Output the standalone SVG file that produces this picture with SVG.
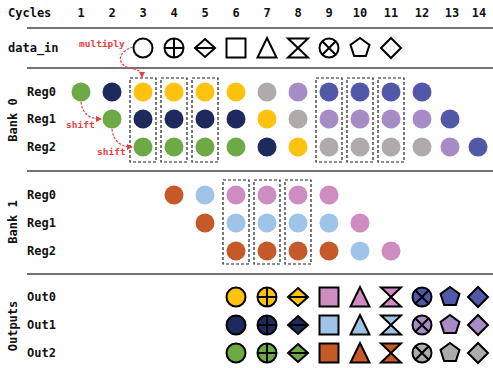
<svg xmlns="http://www.w3.org/2000/svg" xmlns:xlink="http://www.w3.org/1999/xlink" width="493" height="368" viewBox="0 0 493 368">
<style>
text{font-family:"DejaVu Sans Mono","Liberation Mono",monospace;font-weight:bold;font-size:12px;fill:#111}
.hd{text-anchor:middle}
.red{fill:#f03c3c;font-size:9.5px}
.sep{stroke:#444;stroke-width:1.5}
.box{fill:none;stroke:#222;stroke-width:1.2;stroke-dasharray:3,2}
.arr{fill:none;stroke:#f03c3c;stroke-width:1.2;stroke-dasharray:2.5,1.5}
.Y{fill:#FFC20E}.N{fill:#1E2A5E}.G{fill:#6DAA45}.S{fill:#AEABAA}.L{fill:#A78BC4}.I{fill:#5258A8}.O{fill:#C55A28}.B{fill:#9EC4E8}.P{fill:#CE8CC0}.W{fill:#fff}
.sh{stroke:#000;stroke-width:2;stroke-linejoin:miter}
</style>
<defs>
<marker id="ah" viewBox="0 0 6 6" refX="5" refY="3" markerWidth="5" markerHeight="5" orient="auto"><path d="M0,0 L6,3 L0,6 z" fill="#f03c3c"/></marker>
<g id="circ" class="sh"><circle r="9.5"/></g>
<g id="pcirc" class="sh"><circle r="9.5"/><path d="M-9.5,0H9.5M0,-9.5V9.5" fill="none"/></g>
<g id="dline" class="sh"><polygon points="0,-9 10,0 0,9 -10,0"/><path d="M-10,0H10" fill="none"/></g>
<g id="sq" class="sh"><rect x="-9.5" y="-9.5" width="19" height="19"/></g>
<g id="tri" class="sh"><polygon points="0,-10 9.5,9.5 -9.5,9.5"/></g>
<g id="hg" class="sh"><polygon points="-10,-9.5 10,-9.5 -10,9.5 10,9.5"/></g>
<g id="xcirc" class="sh"><circle r="9.5"/><path d="M-6.7,-6.7L6.7,6.7M6.7,-6.7L-6.7,6.7" fill="none"/></g>
<g id="pent" class="sh"><polygon points="0,-10 9.5,-3.1 5.9,8.1 -5.9,8.1 -9.5,-3.1"/></g>
<g id="dia" class="sh"><polygon points="0,-10 10,0 0,10 -10,0"/></g>
</defs>
<rect width="493" height="368" fill="#fff"/>

<g id="header">
<text x="8" y="17">Cycles</text>
<text class="hd" x="81" y="17">1</text>
<text class="hd" x="112" y="17">2</text>
<text class="hd" x="143" y="17">3</text>
<text class="hd" x="174" y="17">4</text>
<text class="hd" x="205" y="17">5</text>
<text class="hd" x="236" y="17">6</text>
<text class="hd" x="267" y="17">7</text>
<text class="hd" x="298" y="17">8</text>
<text class="hd" x="329" y="17">9</text>
<text class="hd" x="360" y="17">10</text>
<text class="hd" x="391" y="17">11</text>
<text class="hd" x="422" y="17">12</text>
<text class="hd" x="452" y="17">13</text>
<text class="hd" x="479" y="17">14</text>
</g>

<g id="separators">
<line class="sep" x1="27" y1="28" x2="493" y2="28"/>
<line class="sep" x1="27" y1="68" x2="493" y2="68"/>
<line class="sep" x1="27" y1="171" x2="493" y2="171"/>
<line class="sep" x1="27" y1="274" x2="493" y2="274"/>
</g>

<g id="data_in">
<text x="8" y="52">data_in</text>
<use href="#circ" x="143" y="48" class="W"/>
<use href="#pcirc" x="174" y="48" class="W"/>
<use href="#dline" x="205" y="48" class="W"/>
<use href="#sq" x="236" y="48" class="W"/>
<use href="#tri" x="267" y="48" class="W"/>
<use href="#hg" x="298" y="48" class="W"/>
<use href="#xcirc" x="329" y="48" class="W"/>
<use href="#pent" x="360" y="48" class="W"/>
<use href="#dia" x="391" y="48" class="W"/>
</g>

<g id="bank0">
<text transform="translate(17,120) rotate(-90)" text-anchor="middle">Bank 0</text>
<text x="27" y="96">Reg0</text>
<text x="27" y="123">Reg1</text>
<text x="27" y="151">Reg2</text>
<rect class="box" x="130" y="78" width="26" height="84"/>
<rect class="box" x="161" y="78" width="26" height="84"/>
<rect class="box" x="192" y="78" width="26" height="84"/>
<rect class="box" x="316" y="78" width="26" height="84"/>
<rect class="box" x="347" y="78" width="26" height="84"/>
<rect class="box" x="378" y="78" width="26" height="84"/>
<g id="b0r0">
<circle class="G" cx="81" cy="92" r="9.5"/><circle class="N" cx="112" cy="92" r="9.5"/><circle class="Y" cx="143" cy="92" r="9.5"/><circle class="Y" cx="174" cy="92" r="9.5"/><circle class="Y" cx="205" cy="92" r="9.5"/><circle class="Y" cx="236" cy="92" r="9.5"/><circle class="S" cx="267" cy="92" r="9.5"/><circle class="L" cx="298" cy="92" r="9.5"/><circle class="I" cx="329" cy="92" r="9.5"/><circle class="I" cx="360" cy="92" r="9.5"/><circle class="I" cx="391" cy="92" r="9.5"/><circle class="I" cx="422" cy="92" r="9.5"/>
</g>
<g id="b0r1">
<circle class="G" cx="112" cy="119" r="9.5"/><circle class="N" cx="143" cy="119" r="9.5"/><circle class="N" cx="174" cy="119" r="9.5"/><circle class="N" cx="205" cy="119" r="9.5"/><circle class="N" cx="236" cy="119" r="9.5"/><circle class="Y" cx="267" cy="119" r="9.5"/><circle class="S" cx="298" cy="119" r="9.5"/><circle class="L" cx="329" cy="119" r="9.5"/><circle class="L" cx="360" cy="119" r="9.5"/><circle class="L" cx="391" cy="119" r="9.5"/><circle class="L" cx="422" cy="119" r="9.5"/><circle class="I" cx="450" cy="119" r="9.5"/>
</g>
<g id="b0r2">
<circle class="G" cx="143" cy="147" r="9.5"/><circle class="G" cx="174" cy="147" r="9.5"/><circle class="G" cx="205" cy="147" r="9.5"/><circle class="G" cx="236" cy="147" r="9.5"/><circle class="N" cx="267" cy="147" r="9.5"/><circle class="Y" cx="298" cy="147" r="9.5"/><circle class="S" cx="329" cy="147" r="9.5"/><circle class="S" cx="360" cy="147" r="9.5"/><circle class="S" cx="391" cy="147" r="9.5"/><circle class="S" cx="422" cy="147" r="9.5"/><circle class="L" cx="450" cy="147" r="9.5"/><circle class="I" cx="478" cy="147" r="9.5"/>
</g>
</g>

<g id="bank1">
<text transform="translate(17,222) rotate(-90)" text-anchor="middle">Bank 1</text>
<text x="27" y="199">Reg0</text>
<text x="27" y="227">Reg1</text>
<text x="27" y="255">Reg2</text>
<rect class="box" x="223" y="180" width="26" height="84"/>
<rect class="box" x="254" y="180" width="26" height="84"/>
<rect class="box" x="285" y="180" width="26" height="84"/>
<g id="b1r0">
<circle class="O" cx="174" cy="195" r="9.5"/><circle class="B" cx="205" cy="195" r="9.5"/><circle class="P" cx="236" cy="195" r="9.5"/><circle class="P" cx="267" cy="195" r="9.5"/><circle class="P" cx="298" cy="195" r="9.5"/><circle class="P" cx="329" cy="195" r="9.5"/>
</g>
<g id="b1r1">
<circle class="O" cx="205" cy="223" r="9.5"/><circle class="B" cx="236" cy="223" r="9.5"/><circle class="B" cx="267" cy="223" r="9.5"/><circle class="B" cx="298" cy="223" r="9.5"/><circle class="B" cx="329" cy="223" r="9.5"/><circle class="P" cx="360" cy="223" r="9.5"/>
</g>
<g id="b1r2">
<circle class="O" cx="236" cy="251" r="9.5"/><circle class="O" cx="267" cy="251" r="9.5"/><circle class="O" cx="298" cy="251" r="9.5"/><circle class="O" cx="329" cy="251" r="9.5"/><circle class="B" cx="360" cy="251" r="9.5"/><circle class="P" cx="391" cy="251" r="9.5"/>
</g>
</g>

<g id="outputs">
<text transform="translate(17,326) rotate(-90)" text-anchor="middle">Outputs</text>
<text x="27" y="301">Out0</text>
<text x="27" y="329">Out1</text>
<text x="27" y="357">Out2</text>
<g id="out0">
<use href="#circ" x="236" y="297" class="Y"/><use href="#pcirc" x="267" y="297" class="Y"/><use href="#dline" x="298" y="297" class="Y"/><use href="#sq" x="329" y="297" class="P"/><use href="#tri" x="360" y="297" class="P"/><use href="#hg" x="391" y="297" class="P"/><use href="#xcirc" x="422" y="297" class="I"/><use href="#pent" x="450" y="297" class="I"/><use href="#dia" x="478" y="297" class="I"/>
</g>
<g id="out1">
<use href="#circ" x="236" y="325" class="N"/><use href="#pcirc" x="267" y="325" class="N"/><use href="#dline" x="298" y="325" class="N"/><use href="#sq" x="329" y="325" class="B"/><use href="#tri" x="360" y="325" class="B"/><use href="#hg" x="391" y="325" class="B"/><use href="#xcirc" x="422" y="325" class="L"/><use href="#pent" x="450" y="325" class="L"/><use href="#dia" x="478" y="325" class="L"/>
</g>
<g id="out2">
<use href="#circ" x="236" y="353" class="G"/><use href="#pcirc" x="267" y="353" class="G"/><use href="#dline" x="298" y="353" class="G"/><use href="#sq" x="329" y="353" class="O"/><use href="#tri" x="360" y="353" class="O"/><use href="#hg" x="391" y="353" class="O"/><use href="#xcirc" x="422" y="353" class="S"/><use href="#pent" x="450" y="353" class="S"/><use href="#dia" x="478" y="353" class="S"/>
</g>
</g>

<g id="connectors">
<path class="arr" marker-end="url(#ah)" d="M133,47 C116,52 116,67 134,69 Q142,71 142,77"/>
<path class="arr" marker-end="url(#ah)" d="M81,102 C82,112 88,119 101,119"/>
<path class="arr" marker-end="url(#ah)" d="M112,129 C113,140 120,147 132,147"/>
</g>
<g id="labels">
<text class="red" x="79" y="47">multiply</text>
<text class="red" x="66" y="128">shift</text>
<text class="red" x="97" y="155">shift</text>
</g>
</svg>
